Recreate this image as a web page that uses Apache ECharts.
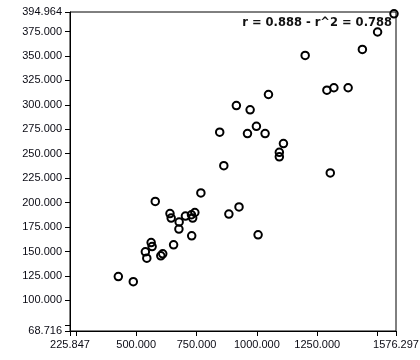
<!DOCTYPE html>
<html>
<head>
<meta charset="utf-8">
<script src="https://cdn.jsdelivr.net/npm/echarts@6/dist/echarts.min.js"></script>
<style>html,body{margin:0;padding:0;background:#fff;}#c{width:420px;height:360px;}</style>
</head>
<body>
<div id="c"></div>
<script>
var xValues = [426, 488, 538, 544, 562, 566, 579, 602, 610, 640, 645, 655, 678, 677, 704, 729, 743, 734, 730, 768, 846, 863, 884, 926, 915, 972, 961, 998, 1034, 1005, 1048, 1093, 1093, 1110, 1200, 1290, 1319, 1378, 1304, 1437, 1500, 1568];
var yValues = [124.4, 119.2, 149.7, 143.2, 159.2, 155.1, 201.2, 145.6, 147.6, 188.8, 184.2, 156.9, 180.2, 173.0, 186.3, 187.6, 189.9, 184.2, 166.1, 209.9, 272.0, 237.8, 188.3, 195.6, 299.3, 294.9, 270.6, 278.1, 270.6, 167.1, 310.6, 251.5, 246.8, 260.4, 350.6, 315.0, 317.5, 317.5, 230.4, 356.7, 374.5, 393.1];
var xMin = 225.847, xMax = 1576.297;
var yMin = 68.716, yMax = 394.964;
var xTickValues = [225.847, 250, 500, 750, 1000, 1250, 1500, 1576.297];
var xLabelValues = [225.847, 500, 750, 1000, 1250, 1576.297];
var yTickValues = [68.716, 75, 100, 125, 150, 175, 200, 225, 250, 275, 300, 325, 350, 375, 394.964];
var yLabelValues = [68.716, 100, 125, 150, 175, 200, 225, 250, 275, 300, 325, 350, 375, 394.964];
var statText = 'r = 0.888 - r^2 = 0.788';

var points = xValues.map(function (x, i) { return [x, yValues[i]]; });
var chart = echarts.init(document.getElementById('c'), null, {renderer: 'canvas'});
var labelFont = {fontFamily: 'Liberation Sans', fontSize: 11, color: '#0a0a14'};
chart.setOption({
  animation: false,
  backgroundColor: '#fff',
  grid: {left: 70, right: 24, top: 12, bottom: 29, show: true, borderColor: '#000', borderWidth: 1, outerBoundsMode: 'none'},
  xAxis: {
    type: 'value', min: xMin, max: xMax,
    axisLine: {show: true, lineStyle: {color: '#000', width: 1}},
    axisTick: {show: true, length: 5, lineStyle: {color: '#000'}, customValues: xTickValues},
    axisLabel: Object.assign({margin: 8, customValues: xLabelValues, formatter: function (v) { return Number(v).toFixed(3); }}, labelFont),
    splitLine: {show: false}
  },
  yAxis: {
    type: 'value', min: yMin, max: yMax,
    axisLine: {show: true, lineStyle: {color: '#000', width: 1}},
    axisTick: {show: true, length: 5, lineStyle: {color: '#000'}, customValues: yTickValues},
    axisLabel: Object.assign({margin: 8, customValues: yLabelValues, formatter: function (v) { return Number(v).toFixed(3); }}, labelFont),
    splitLine: {show: false}
  },
  graphic: [{
    type: 'text', right: 28, top: 17,
    style: {text: statText, font: 'bold 11.5px "DejaVu Sans"', fill: '#111'}
  }],
  series: [{
    type: 'scatter',
    data: points,
    symbol: 'circle',
    symbolSize: 7.5,
    clip: false,
    itemStyle: {color: 'rgba(0,0,0,0)', borderColor: '#000', borderWidth: 2, opacity: 1}
  }]
});
</script>
</body>
</html>
